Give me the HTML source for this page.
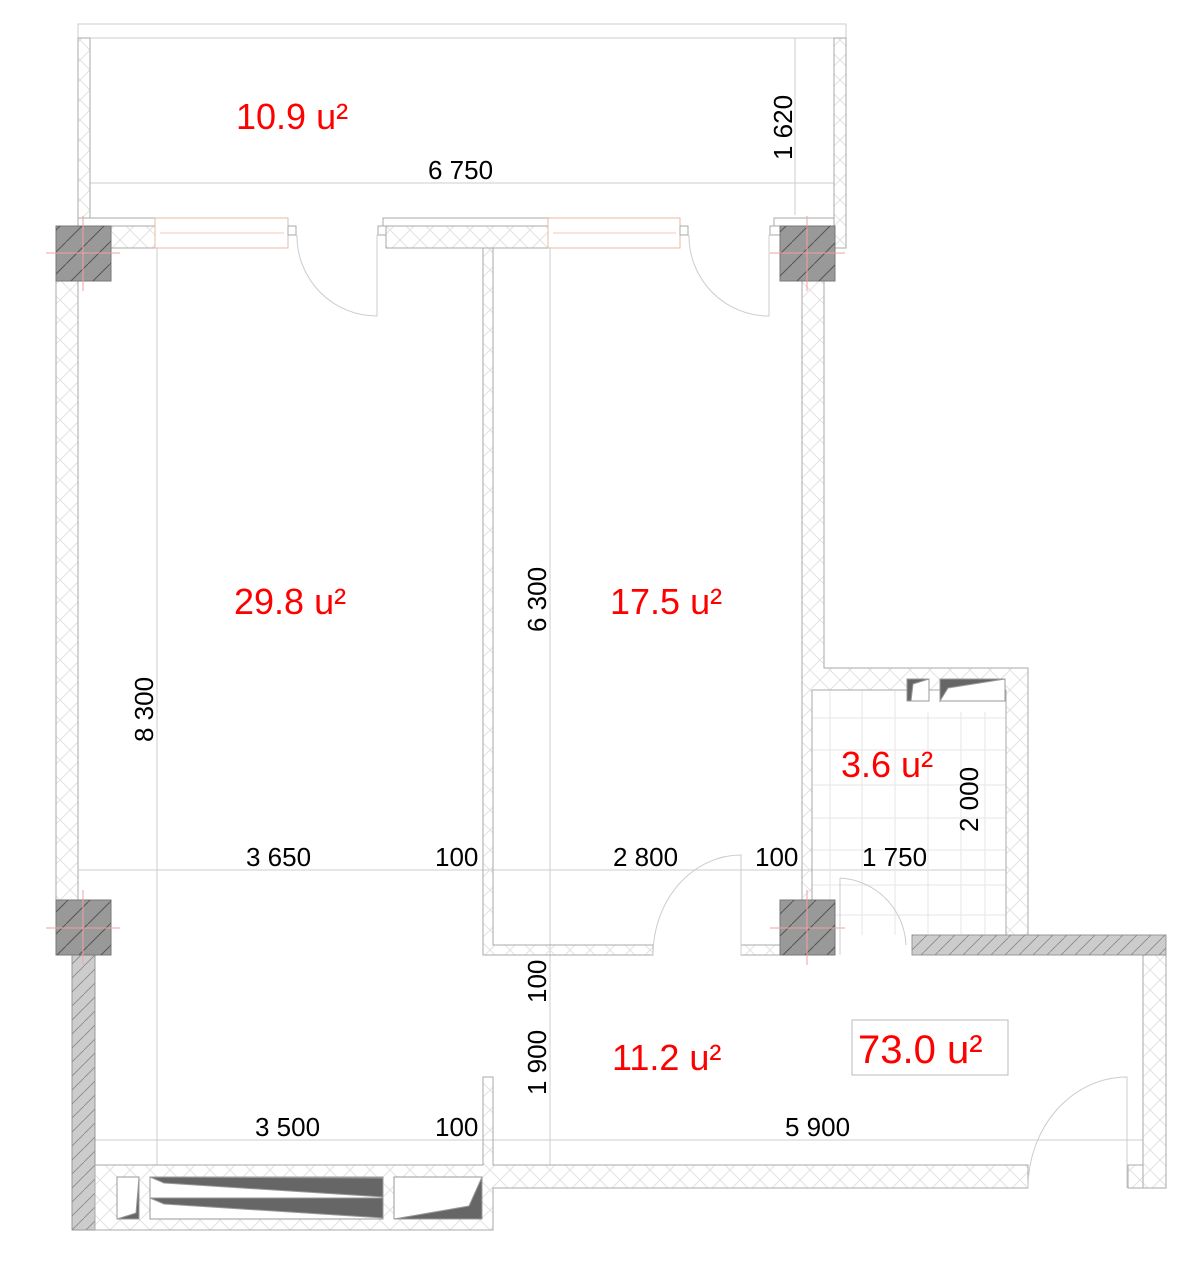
<!DOCTYPE html>
<html><head><meta charset="utf-8"><style>
html,body{margin:0;padding:0;background:#fff}
svg{display:block}
.d{font-family:"Liberation Sans",sans-serif;font-size:26px;fill:#000}
.r{font-family:"Liberation Sans",sans-serif;font-size:36px;fill:#f00}
</style></head><body>
<svg width="1200" height="1265" viewBox="0 0 1200 1265" xmlns="http://www.w3.org/2000/svg">
<defs>
<pattern id="x" width="20" height="20" patternUnits="userSpaceOnUse"><path d="M0 0L20 20M20 0L0 20" stroke="#e2e2e2" stroke-width="1"/></pattern>
<pattern id="h" width="14" height="14" patternUnits="userSpaceOnUse"><path d="M0 14L14 0" stroke="#888" stroke-width="0.8"/></pattern>
<pattern id="hd" width="22" height="22" patternUnits="userSpaceOnUse"><path d="M0 22L22 0" stroke="#555" stroke-width="1"/></pattern>
</defs>
<g fill="none" stroke="#ccc" stroke-width="1">
<line x1="90" y1="183" x2="834" y2="183"/>
<line x1="795" y1="38" x2="795" y2="215"/>
<line x1="157" y1="248" x2="157" y2="1165"/>
<line x1="550" y1="248" x2="550" y2="1165"/>
<line x1="78" y1="870" x2="1006" y2="870"/>
<line x1="95" y1="1140" x2="1143" y2="1140"/>
<g stroke="#e6e6e6">
<line x1="830" y1="690" x2="830" y2="935"/><line x1="862" y1="690" x2="862" y2="935"/><line x1="895" y1="690" x2="895" y2="935"/><line x1="928" y1="712" x2="928" y2="935"/><line x1="961" y1="712" x2="961" y2="935"/><line x1="985" y1="712" x2="985" y2="935"/>
<line x1="812" y1="718" x2="1006" y2="718"/><line x1="812" y1="750" x2="1006" y2="750"/><line x1="812" y1="785" x2="1006" y2="785"/><line x1="812" y1="818" x2="1006" y2="818"/><line x1="812" y1="850" x2="1006" y2="850"/><line x1="812" y1="885" x2="1006" y2="885"/><line x1="812" y1="915" x2="1006" y2="915"/>
</g>
</g>
<g stroke="#aaa" stroke-width="1">
<rect x="78" y="24" width="768" height="14" fill="#fff" stroke="#ccc"/>
<rect x="78" y="38" width="12" height="180" fill="url(#x)"/>
<rect x="834" y="38" width="12" height="210" fill="url(#x)"/>
<rect x="78" y="218" width="83" height="30" fill="#fff"/>
<rect x="111" y="226" width="45" height="22" fill="url(#x)"/>
<rect x="155" y="218" width="133" height="30" fill="#fff" stroke="#e8b8a0"/>
<line x1="160" y1="233" x2="284" y2="233" stroke="#f5c8b0"/>
<rect x="288" y="226" width="8" height="9" fill="#fff"/>
<rect x="378" y="226" width="8" height="9" fill="#fff"/>
<rect x="383" y="218" width="165" height="8" fill="#fff"/>
<rect x="386" y="226" width="162" height="22" fill="url(#x)"/>
<rect x="548" y="218" width="132" height="30" fill="#fff" stroke="#e8b8a0"/>
<line x1="553" y1="233" x2="676" y2="233" stroke="#f5c8b0"/>
<rect x="680" y="226" width="8" height="9" fill="#fff"/>
<rect x="770" y="226" width="10" height="9" fill="#fff"/>
<rect x="774" y="218" width="60" height="8" fill="#fff"/>
<rect x="56" y="281" width="22" height="619" fill="url(#x)"/>
<path d="M483 248H493V945H653V955H483Z" fill="url(#x)"/>
<path d="M741 945H780V955H741Z" fill="url(#x)"/>
<path d="M802 281H824V668H1028V935H1006V690H812V900H802Z" fill="url(#x)"/>
<rect x="1143" y="955" width="23" height="233" fill="url(#x)"/>
<rect x="912" y="935" width="254" height="20" fill="#ccc" stroke="#999"/>
<rect x="912" y="935" width="254" height="20" fill="url(#h)" stroke="none"/>
<rect x="72" y="955" width="23" height="275" fill="#ccc" stroke="#999"/>
<rect x="72" y="955" width="23" height="275" fill="url(#h)" stroke="none"/>
<path d="M493 1077H483V1165H95V1230H493V1188H1028V1165H493Z" fill="url(#x)"/>
<rect x="1128" y="1165" width="15" height="23" fill="url(#x)"/>
<g stroke="#777">
<rect x="56" y="226" width="55" height="55" fill="#999"/>
<rect x="780" y="226" width="55" height="55" fill="#999"/>
<rect x="56" y="900" width="55" height="55" fill="#999"/>
<rect x="780" y="900" width="55" height="55" fill="#999"/>
</g>
<g stroke="none">
<rect x="56" y="226" width="55" height="55" fill="url(#hd)"/>
<rect x="780" y="226" width="55" height="55" fill="url(#hd)"/>
<rect x="56" y="900" width="55" height="55" fill="url(#hd)"/>
<rect x="780" y="900" width="55" height="55" fill="url(#hd)"/>
</g>
<rect x="852" y="1020" width="156" height="55" fill="#fff" stroke="#bbb"/>
</g>
<g stroke="#f3a0a0" stroke-width="1">
<path d="M46 253H120M83 216V291M770 253H845M807 216V291M46 928H120M83 890V965M770 928H845M807 890V965"/>
</g>
<g fill="none" stroke="#ccc" stroke-width="1">
<path d="M297 235A80 80 0 0 0 377 316V235"/>
<path d="M689 235A80 80 0 0 0 769 316V235"/>
<path d="M653 955A88 100 0 0 1 741 855V955"/>
<path d="M840 878A70 70 0 0 1 906 945"/><line x1="840" y1="878" x2="840" y2="955"/>
<path d="M1028 1188A99 111 0 0 1 1127 1077V1188"/>
</g>
<g stroke="#999" fill="#fff">
<rect x="907" y="679" width="22" height="22"/>
<path d="M907 679H929L913 684L911 701H907Z" fill="#666"/>
<rect x="940" y="679" width="65" height="22"/>
<path d="M940 701V679H1005L948 688Z" fill="#666"/>
<rect x="117" y="1177" width="22" height="42"/>
<path d="M139 1177L136 1213L117 1219H139Z" fill="#666"/>
<rect x="150" y="1177" width="233" height="42"/>
<path d="M150 1177L164 1183L383 1197V1178Z" fill="#666"/>
<path d="M150 1198L164 1204L383 1218V1198Z" fill="#666"/>
<rect x="394" y="1177" width="88" height="42"/>
<path d="M482 1177L469 1206L394 1219H482Z" fill="#666"/>
</g>
<text class="r" x="236" y="129">10.9 u²</text>
<text class="r" x="234" y="614">29.8 u²</text>
<text class="r" x="610" y="614">17.5 u²</text>
<text class="r" x="841" y="777">3.6 u²</text>
<text class="r" x="612" y="1070">11.2 u²</text>
<text class="r" x="858" y="1063" style="font-size:40px">73.0 u²</text>
<text class="d" x="428" y="179">6 750</text>
<text class="d" x="246" y="866">3 650</text>
<text class="d" x="435" y="866">100</text>
<text class="d" x="613" y="866">2 800</text>
<text class="d" x="755" y="866">100</text>
<text class="d" x="862" y="866">1 750</text>
<text class="d" x="255" y="1136">3 500</text>
<text class="d" x="435" y="1136">100</text>
<text class="d" x="785" y="1136">5 900</text>
<text class="d" transform="translate(792,160) rotate(-90)">1 620</text>
<text class="d" transform="translate(153,742) rotate(-90)">8 300</text>
<text class="d" transform="translate(546,632) rotate(-90)">6 300</text>
<text class="d" transform="translate(978,832) rotate(-90)">2 000</text>
<text class="d" transform="translate(546,1003) rotate(-90)">100</text>
<text class="d" transform="translate(546,1095) rotate(-90)">1 900</text>
</svg>
</body></html>
